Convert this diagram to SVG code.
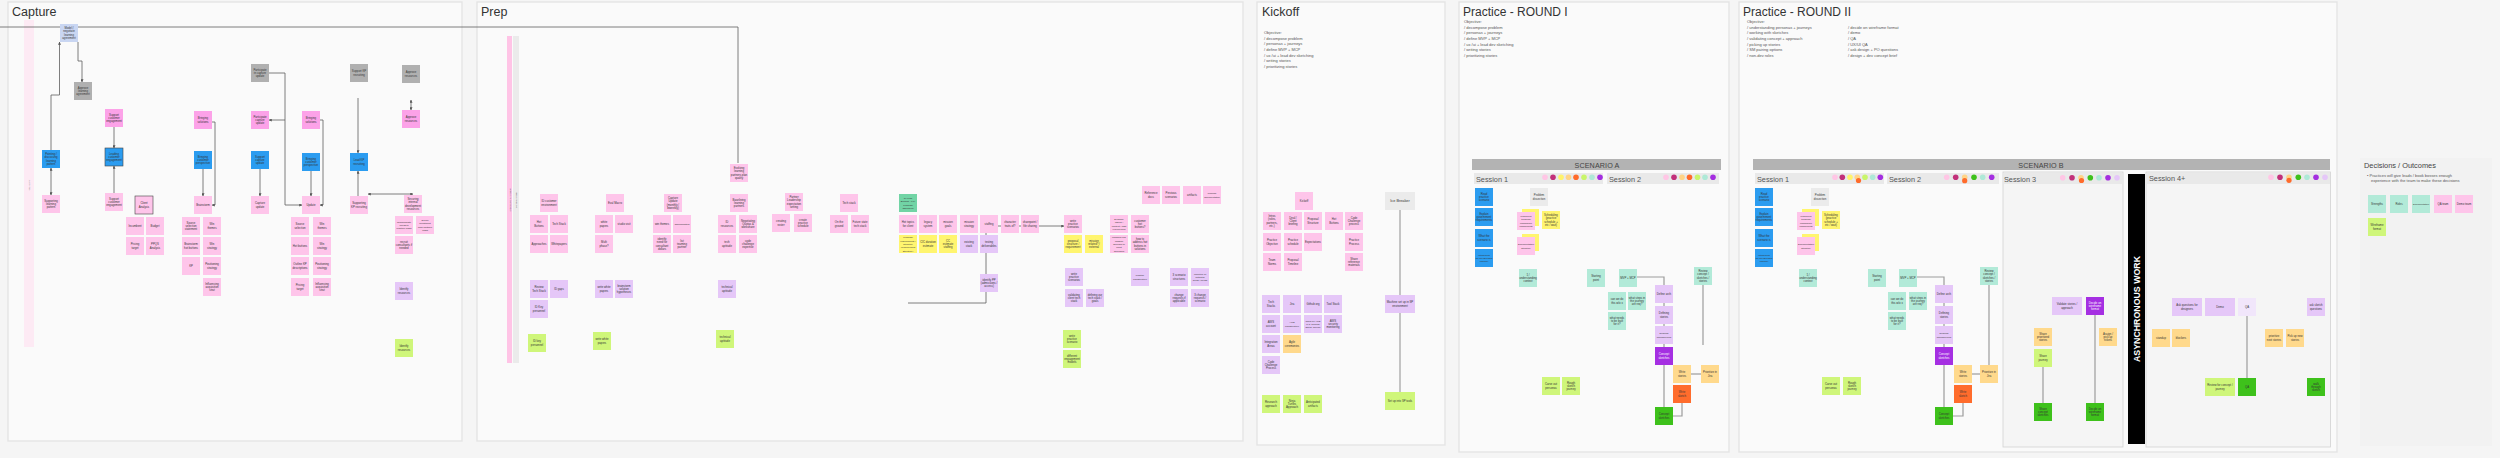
<svg xmlns="http://www.w3.org/2000/svg" width="2500" height="458" viewBox="0 0 2500 458">
<defs>
<style>
.bg{fill:#f5f5f5}
.f{fill:#fafafa;stroke:#e3e3e3;stroke-width:1.3}
.pk{fill:#fec5ea}.pk2{fill:#fca2e8}.bl{fill:#2b9cf0}.dg{fill:#b0b0b0}.lb{fill:#c9d6f2}.lv{fill:#e5c7f8}.gy{fill:#cff67a}
.mt{fill:#b2ead8}.tl{fill:#71d4a5}.yl{fill:#fff56f}.lo{fill:#ffd98c}.or{fill:#ff6c2c}.pu{fill:#a52fe2}
.gr{fill:#3ec11b}.lg{fill:#ebebeb}.vl{fill:#f1e6fb}
.bd{stroke:#444;stroke-width:0.6}
text{font-family:'Liberation Sans',Arial,sans-serif}
.t{font-size:2.8px;fill:#333;text-anchor:middle}
.ts{font-size:2.4px;fill:#333;text-anchor:middle}
.w{fill:#fff}
.ttl{font-size:12.5px;fill:#333}
.obj{font-size:4px;fill:#555}
.ses{font-size:7.3px;fill:#555}
.scn{font-size:7.2px;fill:#444;text-anchor:middle;letter-spacing:0.1px}
.c{fill:none;stroke:#5e5e5e;stroke-width:0.8}
.c2{fill:none;stroke:#a8a8a8;stroke-width:1.3}
.c3{fill:none;stroke:#9c9c9c;stroke-width:1.2}
</style>
<marker id="ah" viewBox="0 0 6 6" refX="5.5" refY="3" markerWidth="3" markerHeight="3" orient="auto-start-reverse" markerUnits="userSpaceOnUse"><path d="M0,0 L6,3 L0,6 z" fill="#555"/></marker>
</defs>
<rect class="bg" x="0" y="0" width="2500" height="458"/>

<!-- Frames -->
<g id="frames">
<rect class="f" x="8" y="2" width="454" height="439"/>
<rect class="f" x="477" y="2" width="766" height="439"/>
<rect class="f" x="1257" y="2" width="188" height="443"/>
<rect class="f" x="1459" y="2" width="270" height="450"/>
<rect class="f" x="1739" y="2" width="598" height="450"/>
<rect x="2360" y="158" width="132" height="288" fill="#f2f2f2"/>
<text class="ttl" x="12" y="16">Capture</text>
<text class="ttl" x="481" y="16">Prep</text>
<text class="ttl" x="1262" y="16">Kickoff</text>
<text class="ttl" x="1463" y="16" style="font-size:12px">Practice - ROUND I</text>
<text class="ttl" x="1743" y="16" style="font-size:12px">Practice - ROUND II</text>
<text x="2364" y="167.5" style="font-size:7.4px;fill:#444">Decisions / Outcomes</text>
<text class="obj" x="2367" y="176.5">• Practices will give leads / book bosses enough</text>
<text class="obj" x="2371" y="182.3">experience with the team to make these decisions</text>
</g>

<!-- Objectives -->
<g id="objectives">
<text class="obj" x="1264" y="34"><tspan x="1264">Objective:</tspan><tspan x="1264" dy="5.65">/ decompose problem</tspan><tspan x="1264" dy="5.65">/ personas + journeys</tspan><tspan x="1264" dy="5.65">/ define MVP + MCP</tspan><tspan x="1264" dy="5.65">/ ux /ui + lead dev sketching</tspan><tspan x="1264" dy="5.65">/ writing stories</tspan><tspan x="1264" dy="5.65">/ prioritizing stories</tspan></text>
<text class="obj" x="1464" y="23"><tspan x="1464">Objective:</tspan><tspan x="1464" dy="5.65">/ decompose problem</tspan><tspan x="1464" dy="5.65">/ personas + journeys</tspan><tspan x="1464" dy="5.65">/ define MVP + MCP</tspan><tspan x="1464" dy="5.65">/ ux /ui + lead dev sketching</tspan><tspan x="1464" dy="5.65">/ writing stories</tspan><tspan x="1464" dy="5.65">/ prioritizing stories</tspan></text>
<text class="obj" x="1747" y="23"><tspan x="1747">Objective:</tspan><tspan x="1747" dy="5.65">/ understanding personas + journeys</tspan><tspan x="1747" dy="5.65">/ working with sketches</tspan><tspan x="1747" dy="5.65">/ validating concept + approach</tspan><tspan x="1747" dy="5.65">/ picking up stories</tspan><tspan x="1747" dy="5.65">/ SM pairing options</tspan><tspan x="1747" dy="5.65">/ non-dev roles</tspan></text>
<text class="obj" x="1848" y="28.65"><tspan x="1848">/ decide on wireframe format</tspan><tspan x="1848" dy="5.65">/ demo</tspan><tspan x="1848" dy="5.65">/ QA</tspan><tspan x="1848" dy="5.65">/ UX/UI QA</tspan><tspan x="1848" dy="5.65">/ ask design + PO questions</tspan><tspan x="1848" dy="5.65">/ design + dev concept brief</tspan></text>
</g>

<!-- Bars and scenario headers -->
<g id="bars">
<rect x="24" y="20" width="10" height="327" fill="#fdeaf4"/>
<text transform="translate(30,185) rotate(-90)" style="font-size:2.5px;fill:#888;text-anchor:middle">QUALIFY</text>
<rect x="507" y="36" width="5" height="327" fill="#ffc4e6"/>
<text transform="translate(510.5,200) rotate(-90)" style="font-size:2.2px;fill:#555;text-anchor:middle">SNH Budget Approval ●</text>
<rect x="513" y="36" width="6" height="327" fill="#ebebeb"/>
<text transform="translate(517,200) rotate(-90)" style="font-size:2.2px;fill:#555;text-anchor:middle">Verbal Approval</text>
</g>

<g id="scenario-a">
<rect x="1472" y="159" width="249" height="11" fill="#b3b3b3"/>
<text class="scn" x="1597" y="167.5">SCENARIO A</text>
<rect x="1474" y="173" width="129" height="11" fill="#e9e9e9"/>
<text class="ses" x="1476" y="181.5">Session 1</text>
<circle cx="1545" cy="177.3" r="2.8" fill="#ffc6e5"/><circle cx="1553" cy="177.3" r="2.8" fill="#c2307a"/><circle cx="1561" cy="177.3" r="2.8" fill="#fff36b"/><circle cx="1568.5" cy="177.3" r="2.8" fill="#ffd487"/><circle cx="1576" cy="177.3" r="2.8" fill="#ff6b2b"/><circle cx="1584" cy="177.3" r="2.8" fill="#c9f56b"/><circle cx="1592" cy="177.3" r="2.8" fill="#aee9d7"/><circle cx="1600" cy="177.3" r="2.8" fill="#a42ee0"/>
<rect x="1607" y="173" width="112" height="11" fill="#e9e9e9"/>
<text class="ses" x="1609" y="181.5">Session 2</text>
<circle cx="1666" cy="177.3" r="2.8" fill="#ffc6e5"/><circle cx="1674" cy="177.3" r="2.8" fill="#c2307a"/><circle cx="1682" cy="177.3" r="2.8" fill="#ffd487"/><circle cx="1689.5" cy="177.3" r="2.8" fill="#ff6b2b"/><circle cx="1697.5" cy="177.3" r="2.8" fill="#c9f56b"/><circle cx="1705" cy="177.3" r="2.8" fill="#aee9d7"/><circle cx="1713" cy="177.3" r="2.8" fill="#a42ee0"/>
</g>

<g id="scenario-b">
<rect x="1753" y="159" width="577" height="11" fill="#b3b3b3"/>
<text class="scn" x="2041" y="167.5">SCENARIO B</text>
<rect x="1755" y="173" width="129" height="11" fill="#e9e9e9"/>
<text class="ses" x="1757" y="181.5">Session 1</text>
<circle cx="1835" cy="177.3" r="2.8" fill="#ffc6e5"/><circle cx="1842.3" cy="177.3" r="2.8" fill="#c2307a"/><circle cx="1850" cy="177.3" r="2.8" fill="#fff36b"/><circle cx="1857.3" cy="177.3" r="2.8" fill="#ffd487"/><circle cx="1858.5" cy="180.5" r="2.6" fill="#ff6b2b"/><circle cx="1865" cy="177.3" r="2.8" fill="#c9f56b"/><circle cx="1872.7" cy="177.3" r="2.8" fill="#aee9d7"/><circle cx="1880.3" cy="177.3" r="2.8" fill="#a42ee0"/>
<rect x="1887" y="173" width="112" height="11" fill="#e9e9e9"/>
<text class="ses" x="1889" y="181.5">Session 2</text>
<circle cx="1946.7" cy="177.3" r="2.8" fill="#ffc6e5"/><circle cx="1955.7" cy="177.3" r="2.8" fill="#c2307a"/><circle cx="1964.7" cy="177.3" r="2.8" fill="#ffd487"/><circle cx="1964.7" cy="180.7" r="2.6" fill="#ff6b2b"/><circle cx="1974" cy="177.3" r="2.8" fill="#3ec11b"/><circle cx="1982.7" cy="177.3" r="2.8" fill="#aee9d7"/><circle cx="1991.7" cy="177.3" r="2.8" fill="#a42ee0"/>
<rect x="2003" y="172" width="120" height="275" fill="#f5f5f5" stroke="#d2d2d2" stroke-width="0.8"/>
<rect x="2003.5" y="173" width="119" height="11" fill="#e9e9e9"/>
<text class="ses" x="2004" y="181.5">Session 3</text>
<circle cx="2062.7" cy="177.7" r="2.8" fill="#ffc6e5"/><circle cx="2072" cy="177.7" r="2.8" fill="#c2307a"/><circle cx="2081" cy="177.7" r="2.8" fill="#ffd487"/><circle cx="2081.5" cy="180.5" r="2.6" fill="#ff6b2b"/><circle cx="2090.3" cy="177.7" r="2.8" fill="#3ec11b"/><circle cx="2099" cy="177.7" r="2.8" fill="#aee9d7"/><circle cx="2108" cy="177.7" r="2.8" fill="#a42ee0"/><circle cx="2117" cy="177.7" r="2.8" fill="#e5c7f8"/>
<rect x="2128" y="174" width="17" height="270" fill="#000"/>
<text transform="translate(2139.5,309) rotate(-90)" style="font-size:8.8px;font-weight:bold;fill:#fff;text-anchor:middle">ASYNCHRONOUS WORK</text>
<rect x="2146" y="172" width="184.5" height="275" fill="#f5f5f5" stroke="#d2d2d2" stroke-width="0.8"/>
<rect x="2146.5" y="173" width="183.5" height="11" fill="#e9e9e9"/>
<text class="ses" x="2149" y="181">Session 4+</text>
<circle cx="2271" cy="177.3" r="2.8" fill="#ffc6e5"/><circle cx="2280" cy="177.3" r="2.8" fill="#c2307a"/><circle cx="2289" cy="177.3" r="2.8" fill="#ffd487"/><circle cx="2289" cy="180.3" r="2.6" fill="#ff6b2b"/><circle cx="2298.3" cy="177.3" r="2.8" fill="#3ec11b"/><circle cx="2307" cy="177.3" r="2.8" fill="#aee9d7"/><circle cx="2316" cy="177.3" r="2.8" fill="#a42ee0"/><circle cx="2325" cy="177.3" r="2.8" fill="#e5c7f8"/>
</g>

<!-- Connectors -->
<g id="connectors">
<path class="c" d="M0,27 H738 V163"/>
<path class="c" d="M51,150 V95 H59.5 V42" marker-end="url(#ah)"/>
<path class="c" d="M78,42 V61 H82 V82" marker-end="url(#ah)"/>
<path class="c" d="M51,168 V195" marker-start="url(#ah)" marker-end="url(#ah)"/>
<path class="c" d="M114,127 V148" marker-end="url(#ah)"/>
<path class="c" d="M114,193 V166" marker-end="url(#ah)"/>
<path class="c" d="M203,169 V196" marker-end="url(#ah)"/>
<path class="c" d="M212,122 H215 V205 H212" marker-end="url(#ah)"/>
<path class="c" d="M260,169 V196" marker-end="url(#ah)"/>
<path class="c" d="M269,73 H285 V205 H302" marker-end="url(#ah)"/>
<path class="c" d="M285,120 H269" marker-end="url(#ah)"/>
<path class="c" d="M311,171 V196" marker-end="url(#ah)"/>
<path class="c" d="M320,120 H323 V205 H320" marker-end="url(#ah)"/>
<path class="c" d="M358,98 V153" marker-end="url(#ah)"/>
<path class="c" d="M358,196 V171" marker-end="url(#ah)"/>
<path class="c" d="M368,194 H413" marker-start="url(#ah)" marker-end="url(#ah)"/>
<path class="c" d="M411,100 V110" marker-start="url(#ah)" marker-end="url(#ah)"/>
<path class="c" d="M908,303 H986 V226 H1064" marker-end="url(#ah)"/>
<path class="c2" d="M1400,210 V392"/>
<path class="c3" d="M1637,277 H1664 V407"/>
<path class="c3" d="M1691,374 H1701"/>
<path class="c3" d="M1673,416 H1682 V403"/>
<path class="c3" d="M1703,285 V345"/>
<path class="c3" d="M1917,277 H1944 V407"/>
<path class="c3" d="M1971,374 H1980"/>
<path class="c3" d="M1953,416 H1963 V403"/>
<path class="c3" d="M1989,285 V365"/>
<path class="c3" d="M2095,315 V403"/>
<path class="c3" d="M2043,367 V403"/>
<path class="c3" d="M2247,316 V378"/>
</g>

<!-- Capture nodes -->
<g id="cap-model"><rect class="lb" x="60" y="24" width="18" height="18"/><text class="t" x="69" y="29"><tspan x="69">Model /</tspan><tspan x="69" dy="3.3">negotiate</tspan><tspan x="69" dy="3.3">learning</tspan><tspan x="69" dy="3.3">agreement</tspan></text></g>
<g id="cap-approve-la"><rect class="dg" x="74" y="82" width="18" height="18"/><text class="t" x="83" y="88.7"><tspan x="83">Approve</tspan><tspan x="83" dy="3.3">learning</tspan><tspan x="83" dy="3.3">agreement</tspan></text></g>
<g id="cap-pointing"><rect class="bl" x="42" y="150" width="18" height="18"/><text class="t" x="51" y="155"><tspan x="51">Pointing /</tspan><tspan x="51" dy="3.3">discussing</tspan><tspan x="51" dy="3.3">learning</tspan><tspan x="51" dy="3.3">pattern</tspan></text></g>
<g id="cap-supporting-lp"><rect class="pk" x="42" y="195" width="18" height="18"/><text class="t" x="51" y="201.7"><tspan x="51">Supporting</tspan><tspan x="51" dy="3.3">learning</tspan><tspan x="51" dy="3.3">pattern</tspan></text></g>
<g id="cap-support-ce1"><rect class="pk2" x="105" y="109" width="18" height="18"/><text class="t" x="114" y="115.7"><tspan x="114">Support</tspan><tspan x="114" dy="3.3">customer</tspan><tspan x="114" dy="3.3">engagement</tspan></text></g>
<g id="cap-leading-ce"><rect class="bl bd" x="105" y="148" width="18" height="18"/><text class="t" x="114" y="154.7"><tspan x="114">Leading</tspan><tspan x="114" dy="3.3">customer</tspan><tspan x="114" dy="3.3">engagement</tspan></text></g>
<g id="cap-support-ce2"><rect class="pk" x="105" y="193" width="18" height="18"/><text class="t" x="114" y="199.7"><tspan x="114">Support</tspan><tspan x="114" dy="3.3">customer</tspan><tspan x="114" dy="3.3">engagement</tspan></text></g>
<g id="cap-client"><rect class="pk bd" x="135" y="196" width="18" height="18"/><text class="t" x="144" y="204.3"><tspan x="144">Client</tspan><tspan x="144" dy="3.3">Analysis</tspan></text></g>
<g id="cap-incumbent"><rect class="pk" x="126" y="217" width="18" height="18"/><text class="t" x="135" y="227">Incumbent</text></g>
<g id="cap-budget"><rect class="pk" x="146" y="217" width="18" height="18"/><text class="t" x="155" y="227">Budget</text></g>
<g id="cap-pricing1"><rect class="pk" x="126" y="237" width="18" height="18"/><text class="t" x="135" y="245.3"><tspan x="135">Pricing</tspan><tspan x="135" dy="3.3">target</tspan></text></g>
<g id="cap-ppqs"><rect class="pk" x="146" y="237" width="18" height="18"/><text class="t" x="155" y="245.3"><tspan x="155">PPQS</tspan><tspan x="155" dy="3.3">Analysis</tspan></text></g>
<g id="cap-bring-sol1"><rect class="pk2" x="194" y="111" width="18" height="18"/><text class="t" x="203" y="119.3"><tspan x="203">Bringing</tspan><tspan x="203" dy="3.3">solutions</tspan></text></g>
<g id="cap-bring-cp1"><rect class="bl" x="194" y="151" width="18" height="18"/><text class="t" x="203" y="157.7"><tspan x="203">Bringing</tspan><tspan x="203" dy="3.3">customer</tspan><tspan x="203" dy="3.3">perspective</tspan></text></g>
<g id="cap-brainstorm"><rect class="pk" x="194" y="196" width="18" height="18"/><text class="t" x="203" y="206">Brainstorm</text></g>
<g id="cap-sss"><rect class="pk" x="182" y="217" width="18" height="18"/><text class="t" x="191" y="223.7"><tspan x="191">Source</tspan><tspan x="191" dy="3.3">selection</tspan><tspan x="191" dy="3.3">statement</tspan></text></g>
<g id="cap-wt1"><rect class="pk" x="203" y="217" width="18" height="18"/><text class="t" x="212" y="225.3"><tspan x="212">Win</tspan><tspan x="212" dy="3.3">themes</tspan></text></g>
<g id="cap-brain-hb"><rect class="pk" x="182" y="237" width="18" height="18"/><text class="t" x="191" y="245.3"><tspan x="191">Brainstorm</tspan><tspan x="191" dy="3.3">hot buttons</tspan></text></g>
<g id="cap-ws1"><rect class="pk" x="203" y="237" width="18" height="18"/><text class="t" x="212" y="245.3"><tspan x="212">Win</tspan><tspan x="212" dy="3.3">strategy</tspan></text></g>
<g id="cap-kp"><rect class="pk" x="182" y="257" width="18" height="18"/><text class="t" x="191" y="267">KP</text></g>
<g id="cap-pos1"><rect class="pk" x="203" y="257" width="18" height="18"/><text class="t" x="212" y="265.3"><tspan x="212">Positioning</tspan><tspan x="212" dy="3.3">strategy</tspan></text></g>
<g id="cap-infl1"><rect class="pk" x="203" y="278" width="18" height="18"/><text class="t" x="212" y="284.7"><tspan x="212">Influencing</tspan><tspan x="212" dy="3.3">acquisition</tspan><tspan x="212" dy="3.3">strat</tspan></text></g>
<g id="cap-part-grey"><rect class="dg" x="251" y="64" width="18" height="18"/><text class="t" x="260" y="70.7"><tspan x="260">Participate</tspan><tspan x="260" dy="3.3">in capture</tspan><tspan x="260" dy="3.3">update</tspan></text></g>
<g id="cap-part-pink"><rect class="pk2" x="251" y="111" width="18" height="18"/><text class="t" x="260" y="117.7"><tspan x="260">Participate</tspan><tspan x="260" dy="3.3">capture</tspan><tspan x="260" dy="3.3">update</tspan></text></g>
<g id="cap-support-cu"><rect class="bl" x="251" y="151" width="18" height="18"/><text class="t" x="260" y="157.7"><tspan x="260">Support</tspan><tspan x="260" dy="3.3">capture</tspan><tspan x="260" dy="3.3">update</tspan></text></g>
<g id="cap-capture-update"><rect class="pk" x="251" y="196" width="18" height="18"/><text class="t" x="260" y="204.3"><tspan x="260">Capture</tspan><tspan x="260" dy="3.3">update</tspan></text></g>
<g id="cap-bring-sol2"><rect class="pk2" x="302" y="111" width="18" height="18"/><text class="t" x="311" y="119.3"><tspan x="311">Bringing</tspan><tspan x="311" dy="3.3">solutions</tspan></text></g>
<g id="cap-bring-cp2"><rect class="bl" x="302" y="153" width="18" height="18"/><text class="t" x="311" y="159.7"><tspan x="311">Bringing</tspan><tspan x="311" dy="3.3">customer</tspan><tspan x="311" dy="3.3">perspective</tspan></text></g>
<g id="cap-update"><rect class="pk" x="302" y="196" width="18" height="18"/><text class="t" x="311" y="206">Update</text></g>
<g id="cap-ss2"><rect class="pk" x="291" y="217" width="18" height="18"/><text class="t" x="300" y="225.3"><tspan x="300">Source</tspan><tspan x="300" dy="3.3">selection</tspan></text></g>
<g id="cap-wt2"><rect class="pk" x="313" y="217" width="18" height="18"/><text class="t" x="322" y="225.3"><tspan x="322">Win</tspan><tspan x="322" dy="3.3">themes</tspan></text></g>
<g id="cap-hb2"><rect class="pk" x="291" y="237" width="18" height="18"/><text class="t" x="300" y="247">Hot buttons</text></g>
<g id="cap-ws2"><rect class="pk" x="313" y="237" width="18" height="18"/><text class="t" x="322" y="245.3"><tspan x="322">Win</tspan><tspan x="322" dy="3.3">strategy</tspan></text></g>
<g id="cap-outline"><rect class="pk" x="291" y="257" width="18" height="18"/><text class="t" x="300" y="265.3"><tspan x="300">Outline KP</tspan><tspan x="300" dy="3.3">descriptions</tspan></text></g>
<g id="cap-pos2"><rect class="pk" x="313" y="257" width="18" height="18"/><text class="t" x="322" y="265.3"><tspan x="322">Positioning</tspan><tspan x="322" dy="3.3">strategy</tspan></text></g>
<g id="cap-pricing2"><rect class="pk" x="291" y="278" width="18" height="18"/><text class="t" x="300" y="286.3"><tspan x="300">Pricing</tspan><tspan x="300" dy="3.3">target</tspan></text></g>
<g id="cap-infl2"><rect class="pk" x="313" y="278" width="18" height="18"/><text class="t" x="322" y="284.7"><tspan x="322">Influencing</tspan><tspan x="322" dy="3.3">acquisition</tspan><tspan x="322" dy="3.3">strat</tspan></text></g>
<g id="cap-support-kp"><rect class="dg" x="350" y="64" width="18" height="18"/><text class="t" x="359" y="72.3"><tspan x="359">Support KP</tspan><tspan x="359" dy="3.3">recruiting</tspan></text></g>
<g id="cap-lead-kp"><rect class="bl" x="350" y="153" width="18" height="18"/><text class="t" x="359" y="161.3"><tspan x="359">Lead KP</tspan><tspan x="359" dy="3.3">recruiting</tspan></text></g>
<g id="cap-supporting-kp"><rect class="pk" x="350" y="196" width="18" height="18"/><text class="t" x="359" y="204.3"><tspan x="359">Supporting</tspan><tspan x="359" dy="3.3">KP recruiting</tspan></text></g>
<g id="cap-approve-res-g"><rect class="dg" x="402" y="65" width="18" height="18"/><text class="t" x="411" y="73.3"><tspan x="411">Approve</tspan><tspan x="411" dy="3.3">resources</tspan></text></g>
<g id="cap-approve-res-p"><rect class="pk2" x="402" y="110" width="18" height="18"/><text class="t" x="411" y="118.3"><tspan x="411">Approve</tspan><tspan x="411" dy="3.3">resources</tspan></text></g>
<g id="cap-securing"><rect class="pk" x="404" y="195" width="18" height="18"/><text class="t" x="413" y="200"><tspan x="413">Securing</tspan><tspan x="413" dy="3.3">internal</tspan><tspan x="413" dy="3.3">development</tspan><tspan x="413" dy="3.3">resources</tspan></text></g>
<g id="cap-communicate"><rect class="pk" x="395" y="216" width="18" height="18"/><text class="ts" x="404" y="222.7"><tspan x="404">communicate</tspan><tspan x="404" dy="3.3">needs to</tspan><tspan x="404" dy="3.3">practice leads</tspan></text></g>
<g id="cap-secure-inv"><rect class="pk" x="416" y="216" width="18" height="18"/><text class="ts" x="425" y="221"><tspan x="425">secure</tspan><tspan x="425" dy="3.3">investment</tspan><tspan x="425" dy="3.3">from portfolio</tspan><tspan x="425" dy="3.3">leads</tspan></text></g>
<g id="cap-recruit"><rect class="pk" x="395" y="236" width="18" height="18"/><text class="t" x="404" y="242.7"><tspan x="404">recruit</tspan><tspan x="404" dy="3.3">consultants if</tspan><tspan x="404" dy="3.3">needed</tspan></text></g>
<g id="cap-identify-lv"><rect class="lv" x="395" y="282" width="18" height="18"/><text class="t" x="404" y="290.3"><tspan x="404">Identify</tspan><tspan x="404" dy="3.3">resources</tspan></text></g>
<g id="cap-identify-gy"><rect class="gy" x="395" y="339" width="18" height="18"/><text class="t" x="404" y="347.3"><tspan x="404">Identify</tspan><tspan x="404" dy="3.3">resources</tspan></text></g>

<!-- Prep nodes -->
<g id="prep-id-cust"><rect class="pk" x="540" y="194" width="18" height="18"/><text class="t" x="549" y="202.3"><tspan x="549">ID customer</tspan><tspan x="549" dy="3.3">environment</tspan></text></g>
<g id="prep-hot"><rect class="pk" x="530" y="215" width="18" height="18"/><text class="t" x="539" y="223.3"><tspan x="539">Hot</tspan><tspan x="539" dy="3.3">Buttons</tspan></text></g>
<g id="prep-tech"><rect class="pk" x="550" y="215" width="18" height="18"/><text class="t" x="559" y="225">Tech Stack</text></g>
<g id="prep-approaches"><rect class="pk" x="530" y="235" width="18" height="18"/><text class="t" x="539" y="245">Approaches</text></g>
<g id="prep-whitepapers"><rect class="pk" x="550" y="235" width="18" height="18"/><text class="t" x="559" y="245">Whitepapers</text></g>
<g id="prep-review"><rect class="lv" x="530" y="280" width="18" height="18"/><text class="t" x="539" y="288.3"><tspan x="539">Review</tspan><tspan x="539" dy="3.3">Tech Stack</tspan></text></g>
<g id="prep-idgaps"><rect class="lv" x="550" y="280" width="18" height="18"/><text class="t" x="559" y="290">ID gaps</text></g>
<g id="prep-idkey"><rect class="lv" x="530" y="300" width="18" height="18"/><text class="t" x="539" y="308.3"><tspan x="539">ID Key</tspan><tspan x="539" dy="3.3">personnel</tspan></text></g>
<g id="prep-idkey-g"><rect class="gy" x="528" y="334" width="18" height="18"/><text class="t" x="537" y="342.3"><tspan x="537">ID key</tspan><tspan x="537" dy="3.3">personnel</tspan></text></g>
<g id="prep-eval"><rect class="pk" x="606" y="194" width="18" height="18"/><text class="t" x="615" y="204">Eval Macro</text></g>
<g id="prep-wp"><rect class="pk" x="595" y="215" width="18" height="18"/><text class="t" x="604" y="223.3"><tspan x="604">white</tspan><tspan x="604" dy="3.3">papers</tspan></text></g>
<g id="prep-studio"><rect class="pk" x="615" y="215" width="18" height="18"/><text class="t" x="624" y="225">studio visit</text></g>
<g id="prep-multi"><rect class="pk" x="595" y="235" width="18" height="18"/><text class="t" x="604" y="243.3"><tspan x="604">Multi</tspan><tspan x="604" dy="3.3">phase?</tspan></text></g>
<g id="prep-wwp"><rect class="lv" x="595" y="280" width="18" height="18"/><text class="t" x="604" y="288.3"><tspan x="604">write white</tspan><tspan x="604" dy="3.3">papers</tspan></text></g>
<g id="prep-brainsol"><rect class="lv" x="615" y="280" width="18" height="18"/><text class="t" x="624" y="286.7"><tspan x="624">brainstorm</tspan><tspan x="624" dy="3.3">solution</tspan><tspan x="624" dy="3.3">hypotheses</tspan></text></g>
<g id="prep-wwp-g"><rect class="gy" x="593" y="332" width="18" height="18"/><text class="t" x="602" y="340.3"><tspan x="602">write white</tspan><tspan x="602" dy="3.3">papers</tspan></text></g>
<g id="prep-capupd"><rect class="pk" x="664" y="194" width="18" height="18"/><text class="t" x="673" y="199"><tspan x="673">Capture</tspan><tspan x="673" dy="3.3">Update</tspan><tspan x="673" dy="3.3">(monthly /</tspan><tspan x="673" dy="3.3">biweekly)</tspan></text></g>
<g id="prep-winth"><rect class="pk" x="653" y="215" width="18" height="18"/><text class="t" x="662" y="225">win themes</text></g>
<g id="prep-discr"><rect class="pk" x="673" y="215" width="18" height="18"/><text class="ts" x="682" y="225">discriminators</text></g>
<g id="prep-identify"><rect class="pk" x="653" y="235" width="18" height="18"/><text class="t" x="662" y="240"><tspan x="662">identify</tspan><tspan x="662" dy="3.3">need for</tspan><tspan x="662" dy="3.3">consultant</tspan><tspan x="662" dy="3.3">dollars</tspan></text></g>
<g id="prep-list"><rect class="pk" x="673" y="235" width="18" height="18"/><text class="t" x="682" y="241.7"><tspan x="682">list</tspan><tspan x="682" dy="3.3">teaming</tspan><tspan x="682" dy="3.3">partner</tspan></text></g>
<g id="prep-evolving"><rect class="pk" x="730" y="164" width="18" height="18"/><text class="t" x="739" y="169"><tspan x="739">Evolving</tspan><tspan x="739" dy="3.3">learning</tspan><tspan x="739" dy="3.3">partners plan</tspan><tspan x="739" dy="3.3">quality</tspan></text></g>
<g id="prep-baselining"><rect class="pk" x="730" y="194" width="18" height="18"/><text class="t" x="739" y="200.7"><tspan x="739">Baselining</tspan><tspan x="739" dy="3.3">learning</tspan><tspan x="739" dy="3.3">partners</tspan></text></g>
<g id="prep-idres"><rect class="pk" x="718" y="215" width="18" height="18"/><text class="t" x="727" y="223.3"><tspan x="727">ID</tspan><tspan x="727" dy="3.3">resources</tspan></text></g>
<g id="prep-negot"><rect class="pk" x="739" y="215" width="18" height="18"/><text class="t" x="748" y="221.7"><tspan x="748">Negotiating</tspan><tspan x="748" dy="3.3">Quotas &amp;</tspan><tspan x="748" dy="3.3">workshare</tspan></text></g>
<g id="prep-techapt"><rect class="pk" x="718" y="235" width="18" height="18"/><text class="t" x="727" y="243.3"><tspan x="727">tech</tspan><tspan x="727" dy="3.3">aptitude</tspan></text></g>
<g id="prep-code"><rect class="pk" x="739" y="235" width="18" height="18"/><text class="t" x="748" y="241.7"><tspan x="748">code</tspan><tspan x="748" dy="3.3">challenge</tspan><tspan x="748" dy="3.3">expertise</tspan></text></g>
<g id="prep-techapt-l"><rect class="lv" x="718" y="280" width="18" height="18"/><text class="t" x="727" y="288.3"><tspan x="727">technical</tspan><tspan x="727" dy="3.3">aptitude</tspan></text></g>
<g id="prep-techapt-g"><rect class="gy" x="716" y="330" width="18" height="18"/><text class="t" x="725" y="338.3"><tspan x="725">technical</tspan><tspan x="725" dy="3.3">aptitude</tspan></text></g>
<g id="prep-partner"><rect class="pk" x="785" y="193" width="18" height="18"/><text class="t" x="794" y="198"><tspan x="794">Partner</tspan><tspan x="794" dy="3.3">Leadership</tspan><tspan x="794" dy="3.3">expectation</tspan><tspan x="794" dy="3.3">setting</tspan></text></g>
<g id="prep-roster"><rect class="pk" x="772" y="214" width="18" height="18"/><text class="t" x="781" y="222.3"><tspan x="781">creating</tspan><tspan x="781" dy="3.3">roster</tspan></text></g>
<g id="prep-schedule"><rect class="pk" x="794" y="214" width="18" height="18"/><text class="t" x="803" y="220.7"><tspan x="803">create</tspan><tspan x="803" dy="3.3">practice</tspan><tspan x="803" dy="3.3">schedule</tspan></text></g>
<g id="prep-techstack2"><rect class="pk" x="840" y="194" width="18" height="18"/><text class="t" x="849" y="204">Tech stack</text></g>
<g id="prep-ground"><rect class="pk" x="830" y="215" width="18" height="18"/><text class="t" x="839" y="223.3"><tspan x="839">On the</tspan><tspan x="839" dy="3.3">ground</tspan></text></g>
<g id="prep-future"><rect class="pk" x="851" y="215" width="18" height="18"/><text class="t" x="860" y="223.3"><tspan x="860">Future state</tspan><tspan x="860" dy="3.3">tech stack</tspan></text></g>
<g id="prep-ci"><rect class="tl" x="899" y="194" width="18" height="18"/><text class="ts" x="908" y="199"><tspan x="908">CI Lead</tspan><tspan x="908" dy="3.3">Briefing - Key</tspan><tspan x="908" dy="3.3">Proposal</tspan><tspan x="908" dy="3.3">Objectives</tspan></text></g>
<g id="prep-hottopics"><rect class="pk" x="899" y="215" width="18" height="18"/><text class="t" x="908" y="223.3"><tspan x="908">Hot topics</tspan><tspan x="908" dy="3.3">for client</tspan></text></g>
<g id="prep-legacy"><rect class="pk" x="919" y="215" width="18" height="18"/><text class="t" x="928" y="223.3"><tspan x="928">legacy</tspan><tspan x="928" dy="3.3">system</tspan></text></g>
<g id="prep-mgoals"><rect class="pk" x="939" y="215" width="18" height="18"/><text class="t" x="948" y="223.3"><tspan x="948">mission</tspan><tspan x="948" dy="3.3">goals</tspan></text></g>
<g id="prep-mstrat"><rect class="pk" x="960" y="215" width="18" height="18"/><text class="t" x="969" y="223.3"><tspan x="969">mission</tspan><tspan x="969" dy="3.3">strategy</tspan></text></g>
<g id="prep-staffing"><rect class="pk" x="980" y="215" width="18" height="18"/><text class="t" x="989" y="225">staffing</text></g>
<g id="prep-traits"><rect class="pk" x="1001" y="215" width="18" height="18"/><text class="t" x="1010" y="223.3"><tspan x="1010">character</tspan><tspan x="1010" dy="3.3">traits of?</tspan></text></g>
<g id="prep-sharepoint"><rect class="pk" x="1021" y="215" width="18" height="18"/><text class="t" x="1030" y="223.3"><tspan x="1030">sharepoint /</tspan><tspan x="1030" dy="3.3">file sharing</tspan></text></g>
<g id="prep-propreq"><rect class="yl" x="899" y="235" width="18" height="18"/><text class="ts" x="908" y="238.4"><tspan x="908">Proposal</tspan><tspan x="908" dy="3.3">requirements /</tspan><tspan x="908" dy="3.3">structure</tspan><tspan x="908" dy="3.3">(Procurement</tspan><tspan x="908" dy="3.3">Structure)</tspan></text></g>
<g id="prep-cic"><rect class="yl" x="919" y="235" width="18" height="18"/><text class="t" x="928" y="243.3"><tspan x="928">CIC duration</tspan><tspan x="928" dy="3.3">estimate</tspan></text></g>
<g id="prep-cc"><rect class="yl" x="939" y="235" width="18" height="18"/><text class="t" x="948" y="241.7"><tspan x="948">CC</tspan><tspan x="948" dy="3.3">estimate</tspan><tspan x="948" dy="3.3">staffing</tspan></text></g>
<g id="prep-existing"><rect class="lv" x="960" y="235" width="18" height="18"/><text class="t" x="969" y="243.3"><tspan x="969">existing</tspan><tspan x="969" dy="3.3">stack</tspan></text></g>
<g id="prep-testing"><rect class="lv" x="980" y="235" width="18" height="18"/><text class="t" x="989" y="243.3"><tspan x="989">testing</tspan><tspan x="989" dy="3.3">deliverables</tspan></text></g>
<g id="prep-identpp"><rect class="lv" x="980" y="274" width="18" height="18"/><text class="t" x="989" y="280.7"><tspan x="989">identify PP</tspan><tspan x="989" dy="3.3">(admissions /</tspan><tspan x="989" dy="3.3">access)</tspan></text></g>
<g id="prep-wps"><rect class="pk" x="1064" y="215" width="18" height="18"/><text class="t" x="1073" y="221.7"><tspan x="1073">write</tspan><tspan x="1073" dy="3.3">practice</tspan><tspan x="1073" dy="3.3">scenarios</tspan></text></g>
<g id="prep-propstruct"><rect class="yl" x="1064" y="235" width="18" height="18"/><text class="t" x="1073" y="241.7"><tspan x="1073">proposal</tspan><tspan x="1073" dy="3.3">structure /</tspan><tspan x="1073" dy="3.3">requirement</tspan></text></g>
<g id="prep-mission-rel"><rect class="yl" x="1085" y="235" width="18" height="18"/><text class="t" x="1094" y="241.7"><tspan x="1094">mission</tspan><tspan x="1094" dy="3.3">related? /</tspan><tspan x="1094" dy="3.3">external</tspan></text></g>
<g id="prep-wps-l"><rect class="lv" x="1065" y="268" width="18" height="18"/><text class="t" x="1074" y="274.7"><tspan x="1074">write</tspan><tspan x="1074" dy="3.3">practice</tspan><tspan x="1074" dy="3.3">scenarios</tspan></text></g>
<g id="prep-validating"><rect class="lv" x="1065" y="289" width="18" height="18"/><text class="t" x="1074" y="295.7"><tspan x="1074">validating</tspan><tspan x="1074" dy="3.3">client tech</tspan><tspan x="1074" dy="3.3">stack</tspan></text></g>
<g id="prep-defining"><rect class="lv" x="1086" y="289" width="18" height="18"/><text class="t" x="1095" y="295.7"><tspan x="1095">defining our</tspan><tspan x="1095" dy="3.3">tech stack /</tspan><tspan x="1095" dy="3.3">goals</tspan></text></g>
<g id="prep-wps-g"><rect class="gy" x="1063" y="330" width="18" height="18"/><text class="t" x="1072" y="336.7"><tspan x="1072">write</tspan><tspan x="1072" dy="3.3">practice</tspan><tspan x="1072" dy="3.3">scenario</tspan></text></g>
<g id="prep-engagement"><rect class="gy" x="1063" y="350" width="18" height="18"/><text class="t" x="1072" y="356.7"><tspan x="1072">different</tspan><tspan x="1072" dy="3.3">engagement</tspan><tspan x="1072" dy="3.3">models</tspan></text></g>
<g id="prep-example"><rect class="pk" x="1110" y="215" width="18" height="18"/><text class="ts" x="1119" y="220"><tspan x="1119">Example</tspan><tspan x="1119" dy="3.3">issues /</tspan><tspan x="1119" dy="3.3">content / past</tspan><tspan x="1119" dy="3.3">experiences</tspan></text></g>
<g id="prep-custhb"><rect class="pk" x="1131" y="215" width="18" height="18"/><text class="t" x="1140" y="221.7"><tspan x="1140">customer</tspan><tspan x="1140" dy="3.3">hot</tspan><tspan x="1140" dy="3.3">buttons?</tspan></text></g>
<g id="prep-mapping"><rect class="pk" x="1110" y="235" width="18" height="18"/><text class="ts" x="1119" y="238.4"><tspan x="1119">Mapping real</tspan><tspan x="1119" dy="3.3">mission</tspan><tspan x="1119" dy="3.3">scenario to</tspan><tspan x="1119" dy="3.3">client</tspan><tspan x="1119" dy="3.3">scenarios</tspan></text></g>
<g id="prep-howto"><rect class="pk" x="1131" y="235" width="18" height="18"/><text class="t" x="1140" y="240"><tspan x="1140">how to</tspan><tspan x="1140" dy="3.3">address hot</tspan><tspan x="1140" dy="3.3">buttons in</tspan><tspan x="1140" dy="3.3">solutions</tspan></text></g>
<g id="prep-infra"><rect class="lv" x="1131" y="268" width="18" height="18"/><text class="ts" x="1140" y="276.3"><tspan x="1140">practice</tspan><tspan x="1140" dy="3.3">infrastructure</tspan></text></g>
<g id="prep-3scen"><rect class="lv" x="1170" y="268" width="18" height="18"/><text class="t" x="1179" y="276.3"><tspan x="1179">3 scenario</tspan><tspan x="1179" dy="3.3">structures</tspan></text></g>
<g id="prep-reflective"><rect class="lv" x="1191" y="268" width="18" height="18"/><text class="ts" x="1200" y="274.7"><tspan x="1200">reflective of</tspan><tspan x="1200" dy="3.3">potential</tspan><tspan x="1200" dy="3.3">areas / needs</tspan></text></g>
<g id="prep-change"><rect class="lv" x="1170" y="289" width="18" height="18"/><text class="t" x="1179" y="295.7"><tspan x="1179">change</tspan><tspan x="1179" dy="3.3">requests if</tspan><tspan x="1179" dy="3.3">applicable</tspan></text></g>
<g id="prep-3change"><rect class="lv" x="1191" y="289" width="18" height="18"/><text class="t" x="1200" y="295.7"><tspan x="1200">3 change</tspan><tspan x="1200" dy="3.3">requests /</tspan><tspan x="1200" dy="3.3">scenario</tspan></text></g>
<g id="prep-refdocs"><rect class="pk" x="1142" y="186" width="18" height="18"/><text class="t" x="1151" y="194.3"><tspan x="1151">Reference</tspan><tspan x="1151" dy="3.3">docs</tspan></text></g>
<g id="prep-prev"><rect class="pk" x="1162" y="186" width="18" height="18"/><text class="t" x="1171" y="194.3"><tspan x="1171">Previous</tspan><tspan x="1171" dy="3.3">scenarios</tspan></text></g>
<g id="prep-artifacts"><rect class="pk" x="1183" y="186" width="18" height="18"/><text class="t" x="1192" y="196">artifacts</text></g>
<g id="prep-process"><rect class="pk" x="1203" y="186" width="18" height="18"/><text class="ts" x="1212" y="194.3"><tspan x="1212">process</tspan><tspan x="1212" dy="3.3">documentation</tspan></text></g>

<!-- Kickoff nodes -->
<g id="ko-kickoff"><rect class="pk" x="1295" y="192" width="18" height="18"/><text class="t" x="1304" y="202">Kickoff</text></g>
<g id="ko-intros"><rect class="pk" x="1263" y="212" width="18" height="18"/><text class="t" x="1272" y="217"><tspan x="1272">Intros</tspan><tspan x="1272" dy="3.3">(roles,</tspan><tspan x="1272" dy="3.3">partners,</tspan><tspan x="1272" dy="3.3">etc.)</tspan></text></g>
<g id="ko-deal"><rect class="pk" x="1284" y="212" width="18" height="18"/><text class="t" x="1293" y="218.7"><tspan x="1293">Deal /</tspan><tspan x="1293" dy="3.3">Client</tspan><tspan x="1293" dy="3.3">briefing</tspan></text></g>
<g id="ko-propstruct"><rect class="pk" x="1304" y="212" width="18" height="18"/><text class="t" x="1313" y="220.3"><tspan x="1313">Proposal</tspan><tspan x="1313" dy="3.3">Structure</tspan></text></g>
<g id="ko-hot"><rect class="pk" x="1325" y="212" width="18" height="18"/><text class="t" x="1334" y="220.3"><tspan x="1334">Hot</tspan><tspan x="1334" dy="3.3">Buttons</tspan></text></g>
<g id="ko-codech"><rect class="pk" x="1345" y="212" width="18" height="18"/><text class="t" x="1354" y="218.7"><tspan x="1354">Code</tspan><tspan x="1354" dy="3.3">Challenge</tspan><tspan x="1354" dy="3.3">process</tspan></text></g>
<g id="ko-practobj"><rect class="pk" x="1263" y="233" width="18" height="18"/><text class="t" x="1272" y="241.3"><tspan x="1272">Practice</tspan><tspan x="1272" dy="3.3">Objective</tspan></text></g>
<g id="ko-practsched"><rect class="pk" x="1284" y="233" width="18" height="18"/><text class="t" x="1293" y="241.3"><tspan x="1293">Practice</tspan><tspan x="1293" dy="3.3">schedule</tspan></text></g>
<g id="ko-expect"><rect class="pk" x="1304" y="233" width="18" height="18"/><text class="t" x="1313" y="243">Expectations</text></g>
<g id="ko-practproc"><rect class="pk" x="1345" y="233" width="18" height="18"/><text class="t" x="1354" y="241.3"><tspan x="1354">Practice</tspan><tspan x="1354" dy="3.3">Process</tspan></text></g>
<g id="ko-norms"><rect class="pk" x="1263" y="253" width="18" height="18"/><text class="t" x="1272" y="261.3"><tspan x="1272">Team</tspan><tspan x="1272" dy="3.3">Norms</tspan></text></g>
<g id="ko-timeline"><rect class="pk" x="1284" y="253" width="18" height="18"/><text class="t" x="1293" y="261.3"><tspan x="1293">Proposal</tspan><tspan x="1293" dy="3.3">Timeline</tspan></text></g>
<g id="ko-share"><rect class="pk" x="1345" y="253" width="18" height="18"/><text class="t" x="1354" y="259.7"><tspan x="1354">Share</tspan><tspan x="1354" dy="3.3">reference</tspan><tspan x="1354" dy="3.3">materials</tspan></text></g>
<g id="ko-ice"><rect class="lg" x="1385" y="192" width="30" height="18"/><text class="t" x="1400" y="202.3" style="font-size:3.8px">Ice Breaker</text></g>
<g id="ko-machine"><rect class="lv" x="1385" y="295" width="30" height="18"/><text class="t" x="1400" y="303.3"><tspan x="1400">Machine set up in SP</tspan><tspan x="1400" dy="3.3">environment</tspan></text></g>
<g id="ko-setup"><rect class="gy" x="1385" y="392" width="30" height="18"/><text class="t" x="1400" y="402">Set up into SP tools</text></g>
<g id="ko-techstacks"><rect class="lv" x="1262" y="295" width="18" height="18"/><text class="t" x="1271" y="303.3"><tspan x="1271">Tech</tspan><tspan x="1271" dy="3.3">Stacks</tspan></text></g>
<g id="ko-jira"><rect class="lv" x="1283" y="295" width="18" height="18"/><text class="t" x="1292" y="305">Jira</text></g>
<g id="ko-github"><rect class="lv" x="1304" y="295" width="18" height="18"/><text class="t" x="1313" y="305">Github org</text></g>
<g id="ko-toolstack"><rect class="lv" x="1324" y="295" width="18" height="18"/><text class="t" x="1333" y="305">Tool Stack</text></g>
<g id="ko-aws"><rect class="lv" x="1262" y="315" width="18" height="18"/><text class="t" x="1271" y="323.3"><tspan x="1271">AWS</tspan><tspan x="1271" dy="3.3">account</tspan></text></g>
<g id="ko-awsinfra"><rect class="lv" x="1283" y="315" width="18" height="18"/><text class="ts" x="1292" y="323.3"><tspan x="1292">AWS</tspan><tspan x="1292" dy="3.3">infrastructure</tspan></text></g>
<g id="ko-tools"><rect class="lv" x="1304" y="315" width="18" height="18"/><text class="ts" x="1313" y="321.7"><tspan x="1313">Tools on AWS</tspan><tspan x="1313" dy="3.3">(e.g. Jenkins,</tspan><tspan x="1313" dy="3.3">Sonar, Nexus)</tspan></text></g>
<g id="ko-awssec"><rect class="lv" x="1324" y="315" width="18" height="18"/><text class="t" x="1333" y="321.7"><tspan x="1333">AWS</tspan><tspan x="1333" dy="3.3">security</tspan><tspan x="1333" dy="3.3">monitoring</tspan></text></g>
<g id="ko-integration"><rect class="lv" x="1262" y="335" width="18" height="18"/><text class="t" x="1271" y="343.3"><tspan x="1271">Integration</tspan><tspan x="1271" dy="3.3">Areas</tspan></text></g>
<g id="ko-agile"><rect class="lo" x="1283" y="335" width="18" height="18"/><text class="t" x="1292" y="343.3"><tspan x="1292">Agile</tspan><tspan x="1292" dy="3.3">ceremonies</tspan></text></g>
<g id="ko-codeproc"><rect class="lv" x="1262" y="356" width="18" height="18"/><text class="t" x="1271" y="362.7"><tspan x="1271">Code</tspan><tspan x="1271" dy="3.3">Challenge</tspan><tspan x="1271" dy="3.3">Process</tspan></text></g>
<g id="ko-research"><rect class="gy" x="1262" y="395" width="18" height="18"/><text class="t" x="1271" y="403.3"><tspan x="1271">Research</tspan><tspan x="1271" dy="3.3">approach</tspan></text></g>
<g id="ko-ninja"><rect class="gy" x="1283" y="395" width="18" height="18"/><text class="t" x="1292" y="401.7"><tspan x="1292">Ninja</tspan><tspan x="1292" dy="3.3">Turtles</tspan><tspan x="1292" dy="3.3">Approach</tspan></text></g>
<g id="ko-anticipated"><rect class="gy" x="1304" y="395" width="18" height="18"/><text class="t" x="1313" y="403.3"><tspan x="1313">Anticipated</tspan><tspan x="1313" dy="3.3">artifacts</tspan></text></g>

<!-- Practice I nodes -->
<g id="p1-read"><rect class="bl" x="1475" y="188" width="18" height="18"/><text class="t" x="1484" y="194.7"><tspan x="1484">Read</tspan><tspan x="1484" dy="3.3">practice</tspan><tspan x="1484" dy="3.3">scenario</tspan></text></g>
<g id="p1-explain"><rect class="bl" x="1475" y="208" width="18" height="18"/><text class="t" x="1484" y="214.7"><tspan x="1484">Explain</tspan><tspan x="1484" dy="3.3">government</tspan><tspan x="1484" dy="3.3">requirements</tspan></text></g>
<g id="p1-what"><rect class="bl" x="1475" y="229" width="18" height="18"/><text class="t" x="1484" y="237.3"><tspan x="1484">What the</tspan><tspan x="1484" dy="3.3">scenario is</tspan></text></g>
<g id="p1-intro"><rect class="bl" x="1475" y="249" width="18" height="18"/><text class="ts" x="1484" y="255.7"><tspan x="1484">Introducing</tspan><tspan x="1484" dy="3.3">the DevSecOps</tspan><tspan x="1484" dy="3.3">channel</tspan></text></g>
<g id="p1-problem"><rect class="lg" x="1530" y="188" width="18" height="18"/><text class="t" x="1539" y="196.3"><tspan x="1539">Problem</tspan><tspan x="1539" dy="3.3">dissection</tspan></text></g>
<g id="p1-pulling"><rect class="yl" x="1522" y="209" width="17" height="17"/><rect class="pk" x="1517" y="212" width="18" height="18"/><text class="ts" x="1526" y="217"><tspan x="1526">pulling out</tspan><tspan x="1526" dy="3.3">technical</tspan><tspan x="1526" dy="3.3">compliance</tspan><tspan x="1526" dy="3.3">components</tspan></text></g>
<g id="p1-scheduling"><rect class="yl" x="1542" y="211" width="18" height="18"/><text class="t" x="1551" y="216"><tspan x="1551">Scheduling</tspan><tspan x="1551" dy="3.3">(practice</tspan><tspan x="1551" dy="3.3">schedule +</tspan><tspan x="1551" dy="3.3">etc / wait)</tspan></text></g>
<g id="p1-doc"><rect class="yl" x="1522" y="234" width="17" height="17"/><rect class="pk" x="1517" y="237" width="18" height="18"/><text class="ts" x="1526" y="245.3"><tspan x="1526">Documentation</tspan><tspan x="1526" dy="3.3">structure</tspan></text></g>
<g id="p1-understanding"><rect class="mt" x="1519" y="269" width="18" height="18"/><text class="t" x="1528" y="275.7"><tspan x="1528">1 /</tspan><tspan x="1528" dy="3.3">understanding</tspan><tspan x="1528" dy="3.3">context</tspan></text></g>
<g id="p1-starting"><rect class="mt" x="1587" y="269" width="18" height="18"/><text class="t" x="1596" y="277.3"><tspan x="1596">Starting</tspan><tspan x="1596" dy="3.3">point</tspan></text></g>
<g id="p1-mvp"><rect class="mt" x="1619" y="269" width="18" height="18"/><text class="t" x="1628" y="279">MVP + MCP</text></g>
<g id="p1-cando"><rect class="mt" x="1608" y="292" width="18" height="18"/><text class="t" x="1617" y="300.3"><tspan x="1617">can we do</tspan><tspan x="1617" dy="3.3">this w/o x</tspan></text></g>
<g id="p1-steps"><rect class="mt" x="1628" y="292" width="18" height="18"/><text class="t" x="1637" y="298.7"><tspan x="1637">what steps in</tspan><tspan x="1637" dy="3.3">the journey</tspan><tspan x="1637" dy="3.3">are req?</tspan></text></g>
<g id="p1-needs"><rect class="mt" x="1608" y="312" width="18" height="18"/><text class="t" x="1617" y="318.7"><tspan x="1617">what needs</tspan><tspan x="1617" dy="3.3">to be built</tspan><tspan x="1617" dy="3.3">for it?</tspan></text></g>
<g id="p1-arch"><rect class="lv" x="1655" y="285" width="18" height="18"/><text class="t" x="1664" y="295">Define arch</text></g>
<g id="p1-stories"><rect class="lv" x="1655" y="306" width="18" height="18"/><text class="t" x="1664" y="314.3"><tspan x="1664">Defining</tspan><tspan x="1664" dy="3.3">stories</tspan></text></g>
<g id="p1-micro"><rect class="lv" x="1655" y="326" width="18" height="18"/><text class="ts" x="1664" y="334.3"><tspan x="1664">Defining</tspan><tspan x="1664" dy="3.3">microservices</tspan></text></g>
<g id="p1-concept-p"><rect class="pu" x="1655" y="347" width="18" height="18"/><text class="t w" x="1664" y="355.3"><tspan x="1664">Concept</tspan><tspan x="1664" dy="3.3">sketches</tspan></text></g>
<g id="p1-concept-g"><rect class="gr" x="1655" y="407" width="18" height="18"/><text class="t" x="1664" y="415.3"><tspan x="1664">Concept</tspan><tspan x="1664" dy="3.3">sketches</tspan></text></g>
<g id="p1-write"><rect class="lo" x="1673" y="365" width="18" height="18"/><text class="t" x="1682" y="373.3"><tspan x="1682">Write</tspan><tspan x="1682" dy="3.3">stories</tspan></text></g>
<g id="p1-prior"><rect class="lo" x="1701" y="365" width="18" height="18"/><text class="t" x="1710" y="373.3"><tspan x="1710">Prioritize in</tspan><tspan x="1710" dy="3.3">Jira</tspan></text></g>
<g id="p1-sketch"><rect class="or" x="1673" y="385" width="18" height="18"/><text class="t" x="1682" y="393.3"><tspan x="1682">Write</tspan><tspan x="1682" dy="3.3">sketch</tspan></text></g>
<g id="p1-review"><rect class="mt" x="1694" y="267" width="18" height="18"/><text class="t" x="1703" y="272"><tspan x="1703">Review</tspan><tspan x="1703" dy="3.3">concept /</tspan><tspan x="1703" dy="3.3">sketches /</tspan><tspan x="1703" dy="3.3">stories</tspan></text></g>
<g id="p1-carve"><rect class="gy" x="1542" y="377" width="18" height="18"/><text class="t" x="1551" y="385.3"><tspan x="1551">Carve out</tspan><tspan x="1551" dy="3.3">personas</tspan></text></g>
<g id="p1-rough"><rect class="gy" x="1562" y="377" width="18" height="18"/><text class="t" x="1571" y="383.7"><tspan x="1571">Rough</tspan><tspan x="1571" dy="3.3">sketch</tspan><tspan x="1571" dy="3.3">journey</tspan></text></g>

<!-- Practice II nodes -->
<g id="p2-read"><rect class="bl" x="1755" y="188" width="18" height="18"/><text class="t" x="1764" y="194.7"><tspan x="1764">Read</tspan><tspan x="1764" dy="3.3">practice</tspan><tspan x="1764" dy="3.3">scenario</tspan></text></g>
<g id="p2-explain"><rect class="bl" x="1755" y="208" width="18" height="18"/><text class="t" x="1764" y="214.7"><tspan x="1764">Explain</tspan><tspan x="1764" dy="3.3">government</tspan><tspan x="1764" dy="3.3">requirements</tspan></text></g>
<g id="p2-what"><rect class="bl" x="1755" y="229" width="18" height="18"/><text class="t" x="1764" y="237.3"><tspan x="1764">What the</tspan><tspan x="1764" dy="3.3">scenario is</tspan></text></g>
<g id="p2-intro"><rect class="bl" x="1755" y="249" width="18" height="18"/><text class="ts" x="1764" y="255.7"><tspan x="1764">Introducing</tspan><tspan x="1764" dy="3.3">the DevSecOps</tspan><tspan x="1764" dy="3.3">channel</tspan></text></g>
<g id="p2-problem"><rect class="lg" x="1811" y="188" width="18" height="18"/><text class="t" x="1820" y="196.3"><tspan x="1820">Problem</tspan><tspan x="1820" dy="3.3">dissection</tspan></text></g>
<g id="p2-pulling"><rect class="yl" x="1802" y="209" width="17" height="17"/><rect class="pk" x="1797" y="212" width="18" height="18"/><text class="ts" x="1806" y="217"><tspan x="1806">pulling out</tspan><tspan x="1806" dy="3.3">technical</tspan><tspan x="1806" dy="3.3">compliance</tspan><tspan x="1806" dy="3.3">components</tspan></text></g>
<g id="p2-scheduling"><rect class="yl" x="1822" y="211" width="18" height="18"/><text class="t" x="1831" y="216"><tspan x="1831">Scheduling</tspan><tspan x="1831" dy="3.3">(practice</tspan><tspan x="1831" dy="3.3">schedule +</tspan><tspan x="1831" dy="3.3">etc / wait)</tspan></text></g>
<g id="p2-doc"><rect class="yl" x="1802" y="234" width="17" height="17"/><rect class="pk" x="1797" y="237" width="18" height="18"/><text class="ts" x="1806" y="245.3"><tspan x="1806">Documentation</tspan><tspan x="1806" dy="3.3">structure</tspan></text></g>
<g id="p2-understanding"><rect class="mt" x="1799" y="269" width="18" height="18"/><text class="t" x="1808" y="275.7"><tspan x="1808">1 /</tspan><tspan x="1808" dy="3.3">understanding</tspan><tspan x="1808" dy="3.3">context</tspan></text></g>
<g id="p2-starting"><rect class="mt" x="1868" y="269" width="18" height="18"/><text class="t" x="1877" y="277.3"><tspan x="1877">Starting</tspan><tspan x="1877" dy="3.3">point</tspan></text></g>
<g id="p2-mvp"><rect class="mt" x="1899" y="269" width="18" height="18"/><text class="t" x="1908" y="279">MVP + MCP</text></g>
<g id="p2-cando"><rect class="mt" x="1888" y="292" width="18" height="18"/><text class="t" x="1897" y="300.3"><tspan x="1897">can we do</tspan><tspan x="1897" dy="3.3">this w/o x</tspan></text></g>
<g id="p2-steps"><rect class="mt" x="1909" y="292" width="18" height="18"/><text class="t" x="1918" y="298.7"><tspan x="1918">what steps in</tspan><tspan x="1918" dy="3.3">the journey</tspan><tspan x="1918" dy="3.3">are req?</tspan></text></g>
<g id="p2-needs"><rect class="mt" x="1888" y="312" width="18" height="18"/><text class="t" x="1897" y="318.7"><tspan x="1897">what needs</tspan><tspan x="1897" dy="3.3">to be built</tspan><tspan x="1897" dy="3.3">for it?</tspan></text></g>
<g id="p2-arch"><rect class="lv" x="1935" y="285" width="18" height="18"/><text class="t" x="1944" y="295">Define arch</text></g>
<g id="p2-stories"><rect class="lv" x="1935" y="306" width="18" height="18"/><text class="t" x="1944" y="314.3"><tspan x="1944">Defining</tspan><tspan x="1944" dy="3.3">stories</tspan></text></g>
<g id="p2-micro"><rect class="lv" x="1935" y="326" width="18" height="18"/><text class="ts" x="1944" y="334.3"><tspan x="1944">Defining</tspan><tspan x="1944" dy="3.3">microservices</tspan></text></g>
<g id="p2-concept-p"><rect class="pu" x="1935" y="347" width="18" height="18"/><text class="t w" x="1944" y="355.3"><tspan x="1944">Concept</tspan><tspan x="1944" dy="3.3">sketches</tspan></text></g>
<g id="p2-concept-g"><rect class="gr" x="1935" y="407" width="18" height="18"/><text class="t" x="1944" y="415.3"><tspan x="1944">Concept</tspan><tspan x="1944" dy="3.3">sketches</tspan></text></g>
<g id="p2-write"><rect class="lo" x="1954" y="365" width="18" height="18"/><text class="t" x="1963" y="373.3"><tspan x="1963">Write</tspan><tspan x="1963" dy="3.3">stories</tspan></text></g>
<g id="p2-prior"><rect class="lo" x="1980" y="365" width="18" height="18"/><text class="t" x="1989" y="373.3"><tspan x="1989">Prioritize in</tspan><tspan x="1989" dy="3.3">Jira</tspan></text></g>
<g id="p2-sketch"><rect class="or" x="1954" y="385" width="18" height="18"/><text class="t" x="1963" y="393.3"><tspan x="1963">Write</tspan><tspan x="1963" dy="3.3">sketch</tspan></text></g>
<g id="p2-review"><rect class="mt" x="1980" y="267" width="18" height="18"/><text class="t" x="1989" y="272"><tspan x="1989">Review</tspan><tspan x="1989" dy="3.3">concept /</tspan><tspan x="1989" dy="3.3">sketches /</tspan><tspan x="1989" dy="3.3">stories</tspan></text></g>
<g id="p2-carve"><rect class="gy" x="1822" y="377" width="18" height="18"/><text class="t" x="1831" y="385.3"><tspan x="1831">Carve out</tspan><tspan x="1831" dy="3.3">personas</tspan></text></g>
<g id="p2-rough"><rect class="gy" x="1843" y="377" width="18" height="18"/><text class="t" x="1852" y="383.7"><tspan x="1852">Rough</tspan><tspan x="1852" dy="3.3">sketch</tspan><tspan x="1852" dy="3.3">journey</tspan></text></g>
<g id="p2-validate"><rect class="lv" x="2052" y="297" width="30" height="18"/><text class="t" x="2067" y="305.3"><tspan x="2067">Validate stories /</tspan><tspan x="2067" dy="3.3">approach</tspan></text></g>
<g id="p2-decide-p"><rect class="pu" x="2086" y="297" width="18" height="18"/><text class="t w" x="2095" y="303.7"><tspan x="2095">Decide on</tspan><tspan x="2095" dy="3.3">wireframe</tspan><tspan x="2095" dy="3.3">format</tspan></text></g>
<g id="p2-decide-g"><rect class="gr" x="2086" y="403" width="18" height="18"/><text class="t" x="2095" y="409.7"><tspan x="2095">Decide on</tspan><tspan x="2095" dy="3.3">wireframe</tspan><tspan x="2095" dy="3.3">format</tspan></text></g>
<g id="p2-share-prior"><rect class="lo" x="2034" y="328" width="18" height="18"/><text class="t" x="2043" y="334.7"><tspan x="2043">Share</tspan><tspan x="2043" dy="3.3">prioritized</tspan><tspan x="2043" dy="3.3">stories</tspan></text></g>
<g id="p2-share-journey"><rect class="gy" x="2034" y="349" width="18" height="18"/><text class="t" x="2043" y="357.3"><tspan x="2043">Share</tspan><tspan x="2043" dy="3.3">journey</tspan></text></g>
<g id="p2-share-concept"><rect class="gr" x="2034" y="403" width="18" height="18"/><text class="t" x="2043" y="409.7"><tspan x="2043">Share</tspan><tspan x="2043" dy="3.3">concept</tspan><tspan x="2043" dy="3.3">sketches</tspan></text></g>
<g id="p2-assign"><rect class="lo" x="2099" y="328" width="18" height="18"/><text class="t" x="2108" y="334.7"><tspan x="2108">Assign /</tspan><tspan x="2108" dy="3.3">pick up</tspan><tspan x="2108" dy="3.3">tickets</tspan></text></g>
<g id="p2-askq"><rect class="lv" x="2172" y="298" width="30" height="18"/><text class="t" x="2187" y="306.3"><tspan x="2187">Ask questions for</tspan><tspan x="2187" dy="3.3">designers</tspan></text></g>
<g id="p2-demo"><rect class="lv" x="2205" y="298" width="30" height="18"/><text class="t" x="2220" y="308">Demo</text></g>
<g id="p2-qa-l"><rect class="vl" x="2238" y="298" width="18" height="18"/><text class="t" x="2247" y="308">QA</text></g>
<g id="p2-asksketch"><rect class="lv" x="2307" y="298" width="18" height="18"/><text class="t" x="2316" y="306.3"><tspan x="2316">ask sketch</tspan><tspan x="2316" dy="3.3">questions</tspan></text></g>
<g id="p2-standup"><rect class="lo" x="2152" y="329" width="18" height="18"/><text class="t" x="2161" y="339">standup</text></g>
<g id="p2-blockers"><rect class="lo" x="2172" y="329" width="18" height="18"/><text class="t" x="2181" y="339">blockers</text></g>
<g id="p2-priornext"><rect class="lo" x="2265" y="329" width="18" height="18"/><text class="t" x="2274" y="337.3"><tspan x="2274">prioritize</tspan><tspan x="2274" dy="3.3">next stories</tspan></text></g>
<g id="p2-pickup"><rect class="lo" x="2286" y="329" width="18" height="18"/><text class="t" x="2295" y="337.3"><tspan x="2295">Pick up new</tspan><tspan x="2295" dy="3.3">stories</tspan></text></g>
<g id="p2-reviewcj"><rect class="gy" x="2205" y="378" width="30" height="18"/><text class="t" x="2220" y="386.3"><tspan x="2220">Review for concept /</tspan><tspan x="2220" dy="3.3">journey</tspan></text></g>
<g id="p2-qa-g"><rect class="gr" x="2238" y="378" width="18" height="18"/><text class="t" x="2247" y="388">QA</text></g>
<g id="p2-walk"><rect class="gr" x="2307" y="378" width="18" height="18"/><text class="t" x="2316" y="384.7"><tspan x="2316">walk</tspan><tspan x="2316" dy="3.3">through</tspan><tspan x="2316" dy="3.3">sketch</tspan></text></g>

<!-- Decisions nodes -->
<g id="dec-strengths"><rect class="mt" x="2368" y="195" width="18" height="18"/><text class="t" x="2377" y="205">Strengths</text></g>
<g id="dec-roles"><rect class="mt" x="2390" y="195" width="18" height="18"/><text class="t" x="2399" y="205">Roles</text></g>
<g id="dec-doc"><rect class="mt" x="2412" y="195" width="18" height="18"/><text class="ts" x="2421" y="205">Documentation</text></g>
<g id="dec-qa"><rect class="pk" x="2434" y="195" width="18" height="18"/><text class="t" x="2443" y="205">QA team</text></g>
<g id="dec-demo"><rect class="pk" x="2455" y="195" width="18" height="18"/><text class="t" x="2464" y="205">Demo team</text></g>
<g id="dec-wireframe"><rect class="gy" x="2368" y="218" width="18" height="18"/><text class="t" x="2377" y="226.3"><tspan x="2377">Wireframe</tspan><tspan x="2377" dy="3.3">format</tspan></text></g>
</svg>
